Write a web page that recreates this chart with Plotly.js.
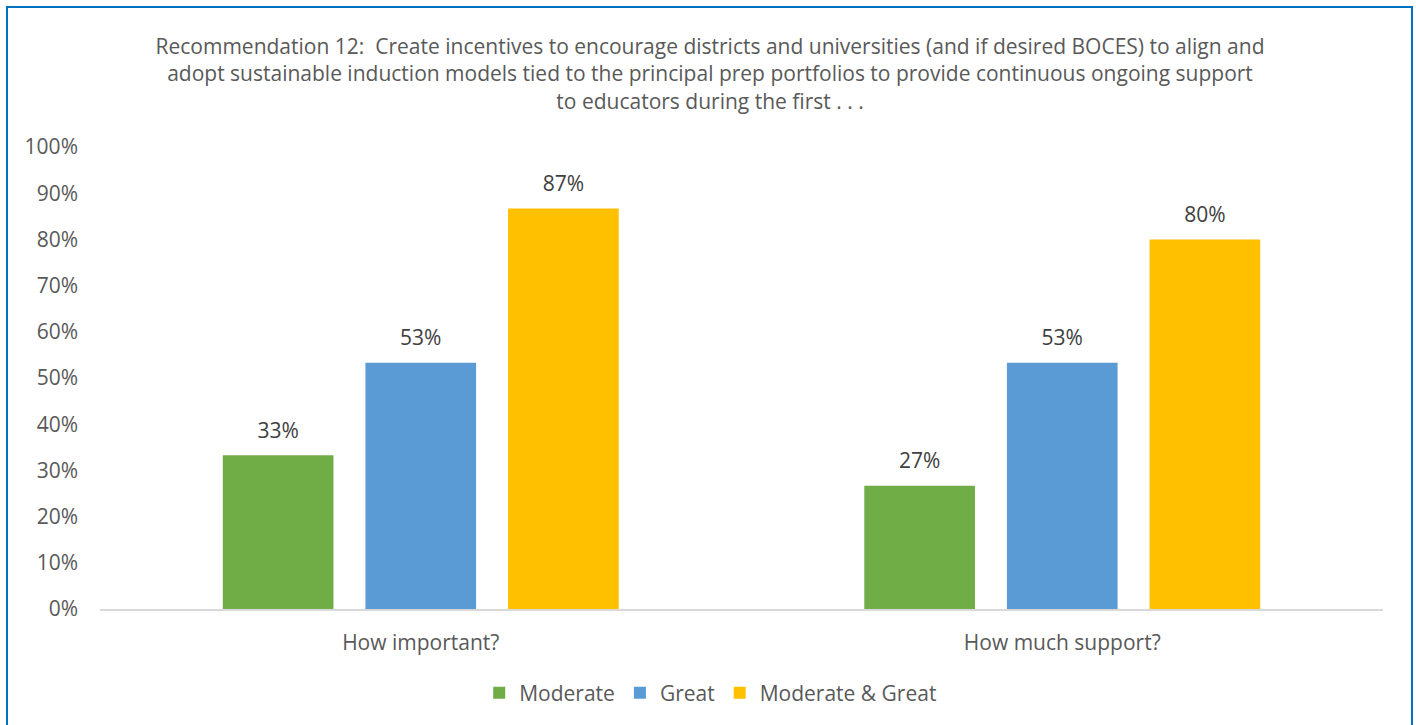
<!DOCTYPE html>
<html>
<head>
<meta charset="utf-8">
<script src="https://cdn.plot.ly/plotly-3.0.1.min.js"></script>
<style>
  html, body { margin: 0; padding: 0; background: #fff; }
  #chart { position: absolute; left: 0; top: 0; width: 1416px; height: 725px; }
  #frame { position: absolute; left: 6px; top: 6px; width: 1403px; height: 740px;
           border: 2px solid #0070C0; pointer-events: none; }
</style>
</head>
<body>
<div id="chart"></div>
<div id="frame"></div>
<script>
const categories = ["How important?", "How much support?"];
const seriesNames = ["Moderate", "Great", "Moderate & Great"];
const moderate = [0.333, 0.267];
const great = [0.533, 0.533];
const moderateGreat = [0.867, 0.800];
const seriesValues = [moderate, great, moderateGreat];
const seriesColors = ["#70AD47", "#5B9BD5", "#FFC000"];
const titleLines = [
  "Recommendation 12:\u00a0 Create incentives to encourage districts and universities (and if desired BOCES) to align and",
  "adopt sustainable induction models tied to the principal prep portfolios to provide continuous ongoing support",
  "to educators during the first . . ."
];
const yTickVals = [0, 0.1, 0.2, 0.3, 0.4, 0.5, 0.6, 0.7, 0.8, 0.9, 1.0];

const FONT = "'Open Sans', 'Noto Sans', sans-serif";
const FS = 21;
const traces = [];
seriesNames.forEach((name, i) => {
  traces.push({
    type: "bar",
    name: name,
    x: categories,
    y: seriesValues[i],
    marker: { color: seriesColors[i] },
    hoverinfo: "x+y+name"
  });
});
seriesNames.forEach((name, i) => {
  traces.push({
    type: "scatter",
    mode: "markers+text",
    name: name + " label",
    x: categories,
    y: seriesValues[i],
    texttemplate: "%{y:.0%}",
    textposition: "top center",
    textfont: { family: FONT, size: FS, color: "#404040" },
    marker: { size: 18, color: "rgba(0,0,0,0)" },
    showlegend: false,
    hoverinfo: "skip",
    cliponaxis: false
  });
});

const layout = {
  width: 1416,
  height: 725,
  paper_bgcolor: "#ffffff",
  plot_bgcolor: "#ffffff",
  margin: { l: 100, r: 33, t: 147, b: 116 },
  font: { family: FONT, color: "#595959", size: FS },
  title: {
    text: titleLines.join("<br>"),
    font: { family: FONT, size: FS, color: "#595959" },
    x: 710 / 1416,
    xanchor: "center",
    xref: "container",
    y: 1 - 54 / 725,
    yref: "container",
    yanchor: "top"
  },
  barmode: "group",
  scattermode: "group",
  bargap: 0.333,
  bargroupgap: 0.224,
  scattergap: 0.333,
  showlegend: true,
  legend: {
    orientation: "h",
    x: 0.476,
    xanchor: "center",
    y: -0.182,
    yanchor: "middle",
    font: { family: FONT, size: FS, color: "#595959" },
    traceorder: "normal",
    itemclick: false
  },
  xaxis: {
    type: "category",
    showline: true,
    linecolor: "#d9d9d9",
    linewidth: 1.5,
    showgrid: false,
    ticks: "",
    ticklabelstandoff: 14,
    tickfont: { family: FONT, size: FS, color: "#595959" },
    fixedrange: true
  },
  yaxis: {
    range: [0, 1],
    tickvals: yTickVals,
    tickformat: ".0%",
    showgrid: false,
    zeroline: false,
    showline: false,
    ticks: "",
    ticklabelstandoff: 21,
    tickfont: { family: FONT, size: FS, color: "#595959" },
    fixedrange: true
  }
};

Plotly.newPlot("chart", traces, layout, { displayModeBar: false, staticPlot: false });
</script>
</body>
</html>
